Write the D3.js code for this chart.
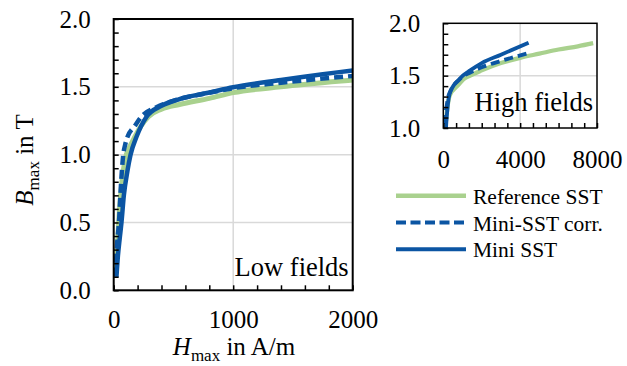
<!DOCTYPE html>
<html>
<head>
<meta charset="utf-8">
<script src="https://cdn.jsdelivr.net/npm/d3@7"></script>
</head>
<body style="margin:0">
<svg id="chart" width="627" height="366"></svg>
<script>
// Magnetisation curves B_max(H_max)
const refH  = [20, 30, 45, 60, 80, 100, 130, 170, 220, 290, 400, 550, 800, 1000, 1400, 2000, 3000, 4000, 5000, 6000, 7000, 7800];
const refB  = [0.12, 0.30, 0.55, 0.72, 0.88, 0.98, 1.05, 1.12, 1.20, 1.28, 1.335, 1.37, 1.415, 1.457, 1.50, 1.55, 1.62, 1.67, 1.71, 1.75, 1.78, 1.81];

const corrH = [12, 20, 30, 44, 57, 70, 80, 95, 115, 175, 232, 358, 550, 791, 1000, 1400, 2000, 3000, 4390];
const corrB = [0.10, 0.22, 0.36, 0.50, 0.72, 0.90, 1.00, 1.07, 1.13, 1.21, 1.28, 1.35, 1.41, 1.455, 1.49, 1.53, 1.58, 1.64, 1.713];

const miniH = [23, 35, 50, 65, 85, 115, 141, 190, 275, 400, 550, 791, 1000, 1400, 2000, 3000, 4440];
const miniB = [0.10, 0.25, 0.38, 0.50, 0.70, 0.88, 1.00, 1.13, 1.28, 1.36, 1.41, 1.456, 1.497, 1.55, 1.62, 1.70, 1.815];

const seriesNames = ["Reference SST", "Mini-SST corr.", "Mini SST"];

// Axis ticks
const lowXTicks  = [0, 1000, 2000];
const lowYTicks  = [0.0, 0.5, 1.0, 1.5, 2.0];
const highXTicks = [0, 4000, 8000];
const highYTicks = [1.0, 1.5, 2.0];

const FONT = "'Liberation Serif', 'Times New Roman', Times, serif";
const green = "#a9d18e", blue = "#0b55a3", gridCol = "#d9d9d9";

const series = [
  { name: seriesNames[0], pts: refH.map((h, i) => [h, refB[i]]),  color: green, width: 5,   dash: null },
  { name: seriesNames[2], pts: miniH.map((h, i) => [h, miniB[i]]), color: blue,  width: 4.5, dash: null },
  { name: seriesNames[1], pts: corrH.map((h, i) => [h, corrB[i]]), color: blue,  width: 4.5, dash: "9,5" }
];

const svg = d3.select("#chart").style("display", "block").style("font-family", FONT);
const fs = 25;

function label(sel) {
  return sel.style("font-family", FONT).attr("fill", "#000");
}

function panel(opt) {
  const x = d3.scaleLinear().domain(opt.xDom).range([opt.l, opt.r]);
  const y = d3.scaleLinear().domain(opt.yDom).range([opt.b, opt.t]);
  const g = svg.append("g");

  // grid
  g.append("g").selectAll("line").data(opt.gridX).join("line")
    .attr("x1", d => x(d)).attr("x2", d => x(d))
    .attr("y1", opt.t).attr("y2", opt.b)
    .attr("stroke", gridCol).attr("stroke-width", 1.5);
  g.append("g").selectAll("line").data(opt.gridY).join("line")
    .attr("y1", d => y(d)).attr("y2", d => y(d))
    .attr("x1", opt.l).attr("x2", opt.r)
    .attr("stroke", gridCol).attr("stroke-width", 1.5);

  // curves, clipped to the plot area
  const id = "clip" + opt.key;
  g.append("clipPath").attr("id", id).append("rect")
    .attr("x", opt.l).attr("y", opt.t).attr("width", opt.r - opt.l).attr("height", opt.b - opt.t);
  const line = d3.line().x(d => x(d[0])).y(d => y(d[1])).curve(d3.curveMonotoneX);
  const cg = g.append("g").attr("clip-path", `url(#${id})`);
  series.forEach(s => {
    cg.append("path").datum(s.pts).attr("d", line)
      .attr("fill", "none").attr("stroke", s.color)
      .attr("stroke-width", s.width * opt.lw)
      .attr("stroke-dasharray", s.dash)
      .attr("stroke-linejoin", "round");
  });

  // minor ticks pointing inward
  const minorX = d3.range(opt.xDom[0], opt.xDom[1] + 1e-6, opt.minorX);
  const minorY = d3.range(opt.yDom[0], opt.yDom[1] + 1e-6, opt.minorY);
  const ax = g.append("g").attr("transform", `translate(0,${opt.b})`)
    .call(d3.axisBottom(x).tickValues(minorX).tickSize(-opt.tick).tickFormat(""));
  const ay = g.append("g").attr("transform", `translate(${opt.l},0)`)
    .call(d3.axisLeft(y).tickValues(minorY).tickSize(-opt.tick).tickFormat(""));
  [ax, ay].forEach(a => {
    a.select(".domain").remove();
    a.selectAll("text").remove();
    a.selectAll("line").attr("stroke", "#000").attr("stroke-width", 1.5);
  });

  // tick labels
  const lx = g.append("g").attr("transform", `translate(0,${opt.b})`)
    .call(d3.axisBottom(x).tickValues(opt.xTicks).tickSize(0).tickPadding(opt.xPad).tickFormat(d3.format("d")));
  const ly = g.append("g").attr("transform", `translate(${opt.l},0)`)
    .call(d3.axisLeft(y).tickValues(opt.yTicks).tickSize(0).tickPadding(opt.yPad).tickFormat(d3.format(".1f")));
  [lx, ly].forEach(a => {
    a.attr("font-family", null).attr("font-size", fs);
    a.select(".domain").remove();
    label(a.selectAll("text")).style("font-size", fs + "px");
  });

  // frame
  g.append("rect").attr("x", opt.l).attr("y", opt.t)
    .attr("width", opt.r - opt.l).attr("height", opt.b - opt.t)
    .attr("fill", "none").attr("stroke", "#000").attr("stroke-width", opt.frame);

  // panel caption
  label(g.append("text")).attr("x", opt.r - 4).attr("y", opt.capY)
    .attr("text-anchor", "end").style("font-size", "26.5px").text(opt.caption);
  return { x, y };
}

panel({
  key: "low", xDom: [0, 2000], yDom: [0, 2],
  l: 113.7, r: 352.7, t: 19, b: 290.3,
  gridX: [1000], gridY: [0.5, 1.0, 1.5],
  minorX: 200, minorY: 0.1, tick: 5, lw: 1,
  xTicks: lowXTicks, yTicks: lowYTicks, xPad: 20, yPad: 23,
  frame: 2, caption: "Low fields", capY: 276
});

panel({
  key: "high", xDom: [0, 8000], yDom: [1, 2],
  l: 443.3, r: 597, t: 23.3, b: 128,
  gridX: [4000], gridY: [1.5],
  minorX: 8000 / 12, minorY: 0.1, tick: 5, lw: 0.85,
  xTicks: highXTicks, yTicks: highYTicks, xPad: 22, yPad: 23,
  frame: 1.5, caption: "High fields", capY: 111
});

// axis titles
const yt = label(svg.append("text")).attr("transform", "translate(33,160) rotate(-90)")
  .attr("text-anchor", "middle").style("font-size", fs + "px");
yt.append("tspan").style("font-style", "italic").text("B");
yt.append("tspan").style("font-size", "17px").attr("dy", 6).text("max");
yt.append("tspan").attr("dy", -6).text(" in T");

const xt = label(svg.append("text")).attr("x", 234).attr("y", 355)
  .attr("text-anchor", "middle").style("font-size", fs + "px");
xt.append("tspan").style("font-style", "italic").text("H");
xt.append("tspan").style("font-size", "17px").attr("dy", 6).text("max");
xt.append("tspan").attr("dy", -6).text(" in A/m");

// legend
const legendItems = [
  { name: seriesNames[0], color: green, width: 4.5, dash: null },
  { name: seriesNames[1], color: blue,  width: 4,   dash: "10,4.5" },
  { name: seriesNames[2], color: blue,  width: 4,   dash: null }
];
const leg = svg.append("g");
legendItems.forEach((it, i) => {
  const yy = 195.7 + i * 26.8;
  leg.append("line").attr("x1", 396).attr("x2", 466).attr("y1", yy).attr("y2", yy)
    .attr("stroke", it.color).attr("stroke-width", it.width).attr("stroke-dasharray", it.dash);
  label(leg.append("text")).attr("x", 473).attr("y", yy + 8)
    .style("font-size", "21.5px").text(it.name);
});
</script>
</body>
</html>
